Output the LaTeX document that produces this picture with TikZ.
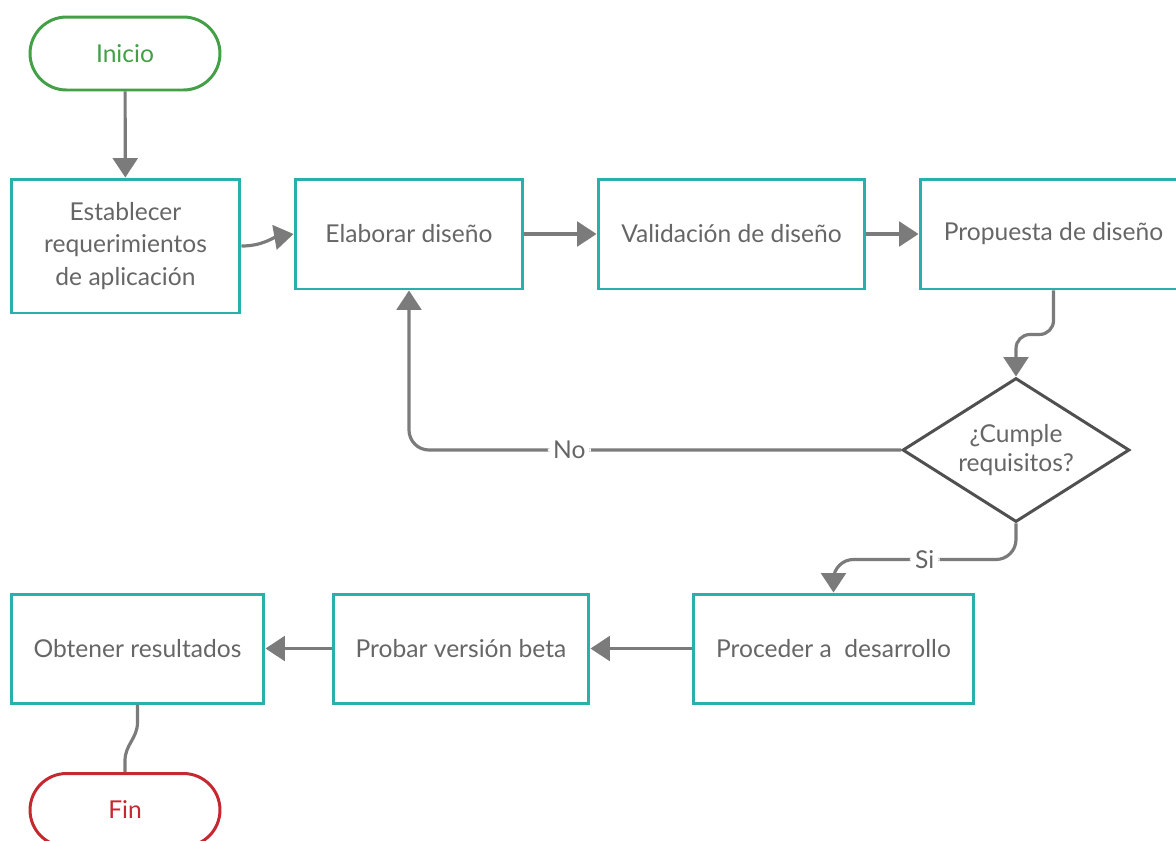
\documentclass[tikz,border=0pt]{standalone}
\usepackage{fontspec}
\setmainfont{Lato}
\usepackage{tikz}
\usetikzlibrary{arrows.meta,shapes.geometric}

\definecolor{caja}{HTML}{2AB0AB}
\definecolor{flecha}{HTML}{7B7B7B}
\definecolor{texto}{HTML}{666666}
\definecolor{verde}{HTML}{43A047}
\definecolor{rojo}{HTML}{C62830}
\definecolor{rombo}{HTML}{505050}

\begin{document}
\begin{tikzpicture}[x=0.02cm,y=-0.02cm,
	paso/.style={draw=caja, line width=1.7pt, fill=white, text=texto, align=center, inner sep=0pt,
		minimum height=2.2cm, font=\fontsize{14}{18.7}\selectfont},
	term/.style={draw=#1, text=#1, line width=1.7pt, fill=white, rounded corners=0.73cm,
		minimum width=3.8cm, minimum height=1.46cm, font=\fontsize{14}{17}\selectfont},
	flujo/.style={draw=flecha, line width=1.8pt, -{Triangle[length=11pt,width=14pt]}},
	etiq/.style={fill=white, text=texto, inner sep=3pt, font=\fontsize{14}{17}\selectfont}]

\useasboundingbox (0,0) rectangle (1176,840);

%% inicio y fin
\node[term=verde] (ini) at (125,53.5) {Inicio};
\node[term=rojo] (fin) at (125,810) {Fin};

%% fila de arriba
\node[paso, minimum width=4.58cm, minimum height=2.68cm] (est) at (125.5,246) {Establecer\\requerimientos\\de aplicaci\'on};
\node[paso, minimum width=4.56cm] (ela) at (409,234) {Elaborar dise\~no};
\node[paso, minimum width=5.34cm] (val) at (731.5,234) {Validaci\'on de dise\~no};
\node[paso, minimum width=5.34cm] (pro) at (1053.5,234) {Propuesta de dise\~no};

%% decision
\node[draw=rombo, line width=1.7pt, shape=diamond, aspect=1.58, inner sep=0pt,
	minimum width=4.54cm, minimum height=2.88cm, text=texto, align=center,
	font=\fontsize{14}{17}\selectfont] (dec) at (1016,450) {¿Cumple\\requisitos?};

%% fila de abajo
\node[paso, minimum width=5.62cm, minimum height=2.18cm] (des) at (833.5,648.5) {Proceder a~\ desarrollo};
\node[paso, minimum width=5.12cm, minimum height=2.18cm] (bet) at (461,648.5) {Probar versi\'on beta};
\node[paso, minimum width=5.06cm, minimum height=2.18cm] (obt) at (137.5,648.5) {Obtener resultados};

%% conectores
\draw[flujo] (ini) -- (est);
\draw[flujo] (est.east) to[out=0,in=190] (ela.west);
\draw[flujo] (ela) -- (val);
\draw[flujo] (val) -- (pro);
\draw[flujo, rounded corners=0.28cm] (pro.south) -- ++(0,44) -| (dec.north);

% No
\draw[flujo, rounded corners=0.4cm] (dec.west) -| (ela.south) node[etiq, pos=0.337]{No};

% Si
\draw[flujo, rounded corners=0.4cm] (dec.south) -- ++(0,36) -| (des.north) node[etiq, pos=0.25]{Si};

\draw[flujo] (des) -- (bet);
\draw[flujo] (bet) -- (obt);
\draw[draw=flecha, line width=1.8pt] (obt.south) -- ++(0,18) to[out=-90,in=90] ++(-12.5,38) -- (fin.north);

\end{tikzpicture}
\end{document}
